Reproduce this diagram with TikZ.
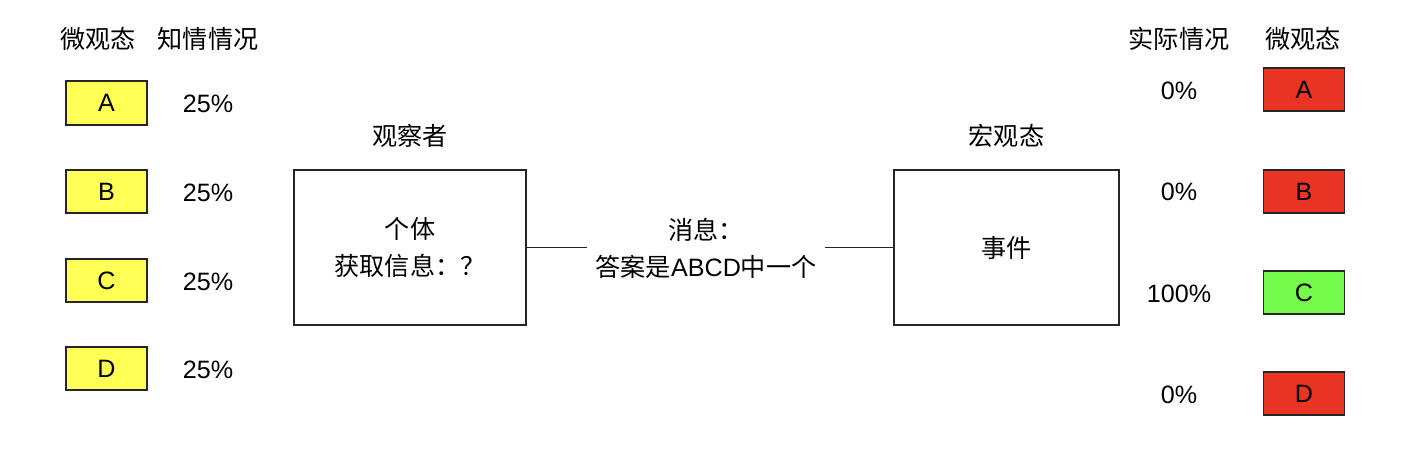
\documentclass[tikz,border=0pt]{standalone}
\usepackage{fontspec}
\setmainfont{Liberation Sans}
\newfontfamily\cjk{Noto Sans CJK SC}
\definecolor{cyel}{HTML}{FFFF55}
\definecolor{cred}{HTML}{E93323}
\definecolor{cgrn}{HTML}{75FB4C}
\begin{document}
\begin{tikzpicture}[x=0.02cm,y=-0.02cm,
  every node/.style={font=\fontsize{14.3}{22}\selectfont, inner sep=0pt},
  txt/.style={},
  state/.style={draw=black!85, line width=0.9pt, minimum width=1.62cm, minimum height=0.87cm},
  bigbox/.style={draw=black!85, line width=0.9pt, minimum height=3.1cm, align=center},
  conn/.style={draw=black!85, line width=0.9pt}]
\useasboundingbox (0,0) rectangle (1426,456);
% headers
\node[txt] (hl1) at (98,39) {\cjk 微观态};
\node[txt] (hl2) at (208,39) {\cjk 知情情况};
\node[txt] (hr1) at (1179,39) {\cjk 实际情况};
\node[txt] (hr2) at (1303,39) {\cjk 微观态};
% left states
\node[state, fill=cyel] (la) at (106.5,103) {A};
\node[state, fill=cyel] (lb) at (106.5,191.5) {B};
\node[state, fill=cyel] (lc) at (106.5,280.5) {C};
\node[state, fill=cyel] (ld) at (106.5,368.5) {D};
\node[txt] (pa) at (208,104) {25\%};
\node[txt] (pb) at (208,193) {25\%};
\node[txt] (pc) at (208,282) {25\%};
\node[txt] (pd) at (208,370) {25\%};
% observer
\node[txt] (obsl) at (410,136) {\cjk 观察者};
\node[bigbox, minimum width=4.64cm] (obs) at (410,247.5) {\cjk 个体\\[-0.5pt]\cjk 获取信息：？};
% message
\node[txt, align=center, minimum width=4.76cm] (msg) at (706,248) {\cjk 消息：\\[-1pt]{\cjk 答案是}ABCD{\cjk 中一个}};
% event
\node[txt] (evl) at (1006.5,136) {\cjk 宏观态};
\node[bigbox, minimum width=4.5cm] (ev) at (1006.5,247.5) {\cjk 事件};
\draw[conn] (obs.east) -- (obs.east -| msg.west);
\draw[conn] (ev.west -| msg.east) -- (ev.west);
% right
\node[txt] (qa) at (1179,91) {0\%};
\node[txt] (qb) at (1179,192) {0\%};
\node[txt] (qc) at (1179,294) {100\%};
\node[txt] (qd) at (1179,395) {0\%};
\node[state, fill=cred] (ra) at (1304,89.5) {A};
\node[state, fill=cred] (rb) at (1304,191.5) {B};
\node[state, fill=cgrn] (rc) at (1304,292.5) {C};
\node[state, fill=cred] (rd) at (1304,393.5) {D};
\end{tikzpicture}
\end{document}
